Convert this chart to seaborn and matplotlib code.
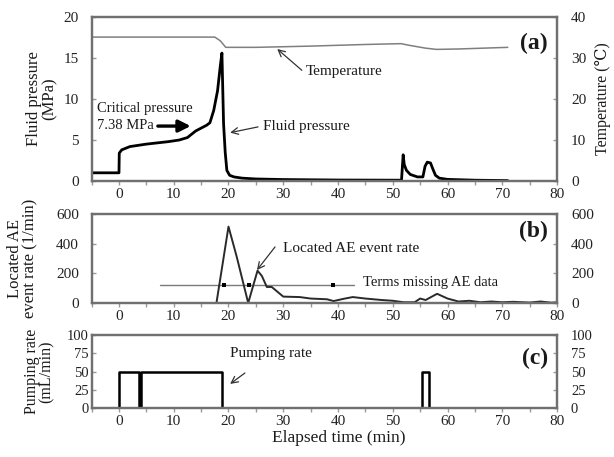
import numpy as np
import pandas as pd
import matplotlib
matplotlib.use("Agg")
import matplotlib.pyplot as plt
import seaborn as sns

# (a) fluid pressure (MPa) and temperature (degC) vs elapsed time (min)
press_t = [-5, 0, 0.05, 0.5, 2, 5, 9, 11, 12.5, 14, 16, 16.6, 17.3, 18, 18.5, 18.8,
           19.1, 19.4, 19.7, 20.2, 21, 22.5, 25, 30, 40, 51.6, 51.9, 52.1, 52.5, 53.2,
           54.5, 55.5, 55.9, 56.3, 56.9, 57.3, 57.8, 58.5, 60, 65, 71]
press_v = [1.0, 1.0, 3.4, 3.8, 4.2, 4.5, 4.8, 5.0, 5.3, 6.1, 6.8, 7.1, 8.6, 11.0, 14.0, 15.6,
           7.0, 3.5, 1.3, 0.7, 0.5, 0.35, 0.25, 0.18, 0.12, 0.1, 3.2, 2.0, 1.3, 0.8,
           0.5, 0.5, 1.8, 2.3, 2.2, 1.5, 0.7, 0.35, 0.2, 0.1, 0.05]
temp_t = [-5, 17.5, 18.5, 19.5, 25, 35, 45, 51.5, 53, 56, 58, 62, 71]
temp_v = [35.1, 35.1, 34.2, 32.6, 32.6, 32.9, 33.3, 33.5, 33.1, 32.4, 32.1, 32.2, 32.6]

# (b) located AE event rate (1/min)
ae_t = [-5, 17.8, 20.0, 21.5, 23.6, 25.3, 26.1, 27.0, 27.9, 30, 33, 35, 38, 39.2, 41, 42.7,
        45, 48, 50, 52, 54, 55, 56, 58.1, 60, 62, 64, 66, 68, 70, 72, 75, 77, 79, 80]
ae_v = [0, 0, 515, 312, 0, 218, 182, 108, 108, 43, 40, 30, 25, 13, 28, 40,
        30, 20, 15, 5, 5, 30, 20, 62, 30, 10, 15, 5, 10, 5, 8, 3, 10, 2, 5]
miss_t = [7.5, 43.0]
miss_level = 120
miss_marks = [19.1, 23.7, 39.1]

# (c) pumping rate (mL/min)
pump_t = [-5, 0, 0, 3.6, 3.6, 4.1, 4.1, 18.8, 18.8, 55.4, 55.4, 56.7, 56.7, 71.4]
pump_v = [0, 0, 50, 50, 0, 0, 50, 50, 0, 0, 50, 50, 0, 0]

sns.set_theme(style="ticks")
plt.rcParams["font.family"] = ["Liberation Serif", "DejaVu Serif"]
plt.rcParams["axes.edgecolor"] = "#707070"
plt.rcParams["axes.linewidth"] = 1.6
plt.rcParams["xtick.color"] = "#9a9a9a"
plt.rcParams["ytick.color"] = "#9a9a9a"
plt.rcParams["xtick.labelcolor"] = "#222222"
plt.rcParams["ytick.labelcolor"] = "#222222"

fig = plt.figure(figsize=(6.14, 4.57), dpi=100)
ax_a = fig.add_axes([0.1492, 0.6039, 0.758, 0.3589])
ax_b = fig.add_axes([0.1492, 0.3370, 0.758, 0.1947])
ax_c = fig.add_axes([0.1492, 0.1072, 0.758, 0.1597])

txt = "#1a1a1a"
thin_arrow = dict(arrowstyle="->", color="#333333", lw=0.9, shrinkA=0, shrinkB=0)

# panel a
ax_t = ax_a.twinx()
sns.lineplot(x=press_t, y=press_v, ax=ax_a, color="black", lw=2.0,
             estimator=None, sort=False)
sns.lineplot(x=temp_t, y=temp_v, ax=ax_t, color="#7f7f7f", lw=1.1,
             estimator=None, sort=False)
ax_a.set_ylim(0, 20)
ax_a.set_yticks([0, 5, 10, 15, 20])
ax_t.set_ylim(0, 40)
ax_t.set_yticks([0, 10, 20, 30, 40])
ax_a.set_ylabel("Fluid pressure\n(MPa)", fontsize=12, linespacing=0.95, color=txt)
ax_a.yaxis.set_label_coords(-0.074, 0.5)
ax_t.set_ylabel("Temperature (\u2103)", fontsize=11.5, color=txt)
ax_t.yaxis.set_label_coords(1.082, 0.5)

ax_a.annotate("", xy=(28.9, 16.1), xytext=(33.4, 13.5), arrowprops=thin_arrow)
ax_a.text(34.2, 13.3, "Temperature", fontsize=11, color=txt, va="center", ha="left")
ax_a.annotate("", xy=(20.3, 5.9), xytext=(25.4, 6.6), arrowprops=thin_arrow)
ax_a.text(26.3, 6.6, "Fluid pressure", fontsize=11, color=txt, va="center", ha="left")
ax_a.text(-4.0, 8.9, "Critical pressure", fontsize=10.5, color=txt, va="center", ha="left")
ax_a.text(-4.0, 6.8, "7.38 MPa", fontsize=10.5, color=txt, va="center", ha="left")
ax_a.annotate("", xy=(13.1, 6.7), xytext=(7.1, 6.7),
              arrowprops=dict(arrowstyle="-|>,head_length=0.6,head_width=0.3",
                              color="black", lw=2.4, shrinkA=0, shrinkB=0))
ax_a.text(78.3, 16.8, "(a)", fontsize=17, fontweight="bold", color=txt,
          ha="right", va="center")

# panel b
ax_b2 = ax_b.twinx()
sns.lineplot(x=miss_t, y=[miss_level] * len(miss_t), ax=ax_b, color="#7a7a7a",
             lw=1.0, estimator=None)
sns.scatterplot(x=miss_marks, y=[miss_level] * len(miss_marks), ax=ax_b,
                color="black", marker="s", s=12, linewidth=0, zorder=4)
sns.lineplot(x=ae_t, y=ae_v, ax=ax_b, color="#2a2a2a", lw=1.4,
             estimator=None, sort=False)
for a in (ax_b, ax_b2):
    a.set_ylim(0, 600)
    a.set_yticks([0, 200, 400, 600])
ax_b.set_ylabel("Located AE\nevent rate (1/min)", fontsize=12, linespacing=0.95, color=txt)
ax_b.yaxis.set_label_coords(-0.114, 0.5)
ax_b.annotate("", xy=(25.2, 222), xytext=(28.5, 378), arrowprops=thin_arrow)
ax_b.text(30.0, 370, "Located AE event rate", fontsize=11, color=txt,
          va="center", ha="left")
ax_b.text(44.6, 140, "Terms missing AE data", fontsize=10.5, color=txt,
          va="center", ha="left")
ax_b.text(78.3, 480, "(b)", fontsize=17, fontweight="bold", color=txt,
          ha="right", va="center")

# panel c
ax_c2 = ax_c.twinx()
sns.lineplot(x=pump_t, y=pump_v, ax=ax_c, color="black", lw=1.8,
             estimator=None, sort=False)
for a in (ax_c, ax_c2):
    a.set_ylim(0, 100)
    a.set_yticks([0, 25, 50, 75, 100])
ax_c.set_ylabel("Pumping rate\n(mL/min)", fontsize=11.5, linespacing=0.9, color=txt)
ax_c.yaxis.set_label_coords(-0.079, 0.5)
ax_c.annotate("", xy=(20.3, 33), xytext=(23.0, 48), arrowprops=thin_arrow)
ax_c.text(20.3, 75, "Pumping rate", fontsize=11, color=txt, va="center", ha="left")
ax_c.text(78.3, 68, "(c)", fontsize=17, fontweight="bold", color=txt,
          ha="right", va="center")
ax_c.set_xlabel("Elapsed time (min)", fontsize=12.5, color=txt)
ax_c.xaxis.set_label_coords(0.53, -0.3)

for a in (ax_a, ax_b, ax_c):
    a.set_xlim(-5, 80)
    a.set_xticks(range(0, 81, 10))
    a.set_xticks(range(-5, 81, 5), minor=True)
    a.tick_params(axis="x", which="both", direction="out", length=3, width=1,
                  labelsize=11, pad=2)
    for s in a.spines.values():
        s.set_visible(True)
ax_a.tick_params(axis="y", direction="in", length=3, width=1, pad=9, labelsize=11)
ax_b.tick_params(axis="y", direction="in", length=3, width=1, pad=9, labelsize=11)
ax_c.tick_params(axis="y", direction="in", length=3, width=1, pad=2, labelsize=10.5)
ax_t.tick_params(axis="y", direction="in", length=3, width=1, pad=10, labelsize=11)
ax_b2.tick_params(axis="y", direction="in", length=3, width=1, pad=10, labelsize=11)
ax_c2.tick_params(axis="y", direction="in", length=3, width=1, pad=10, labelsize=10.5)
for a in (ax_t, ax_b2, ax_c2):
    a.set_xlim(-5, 80)

fig.savefig("out.png", dpi=100)
